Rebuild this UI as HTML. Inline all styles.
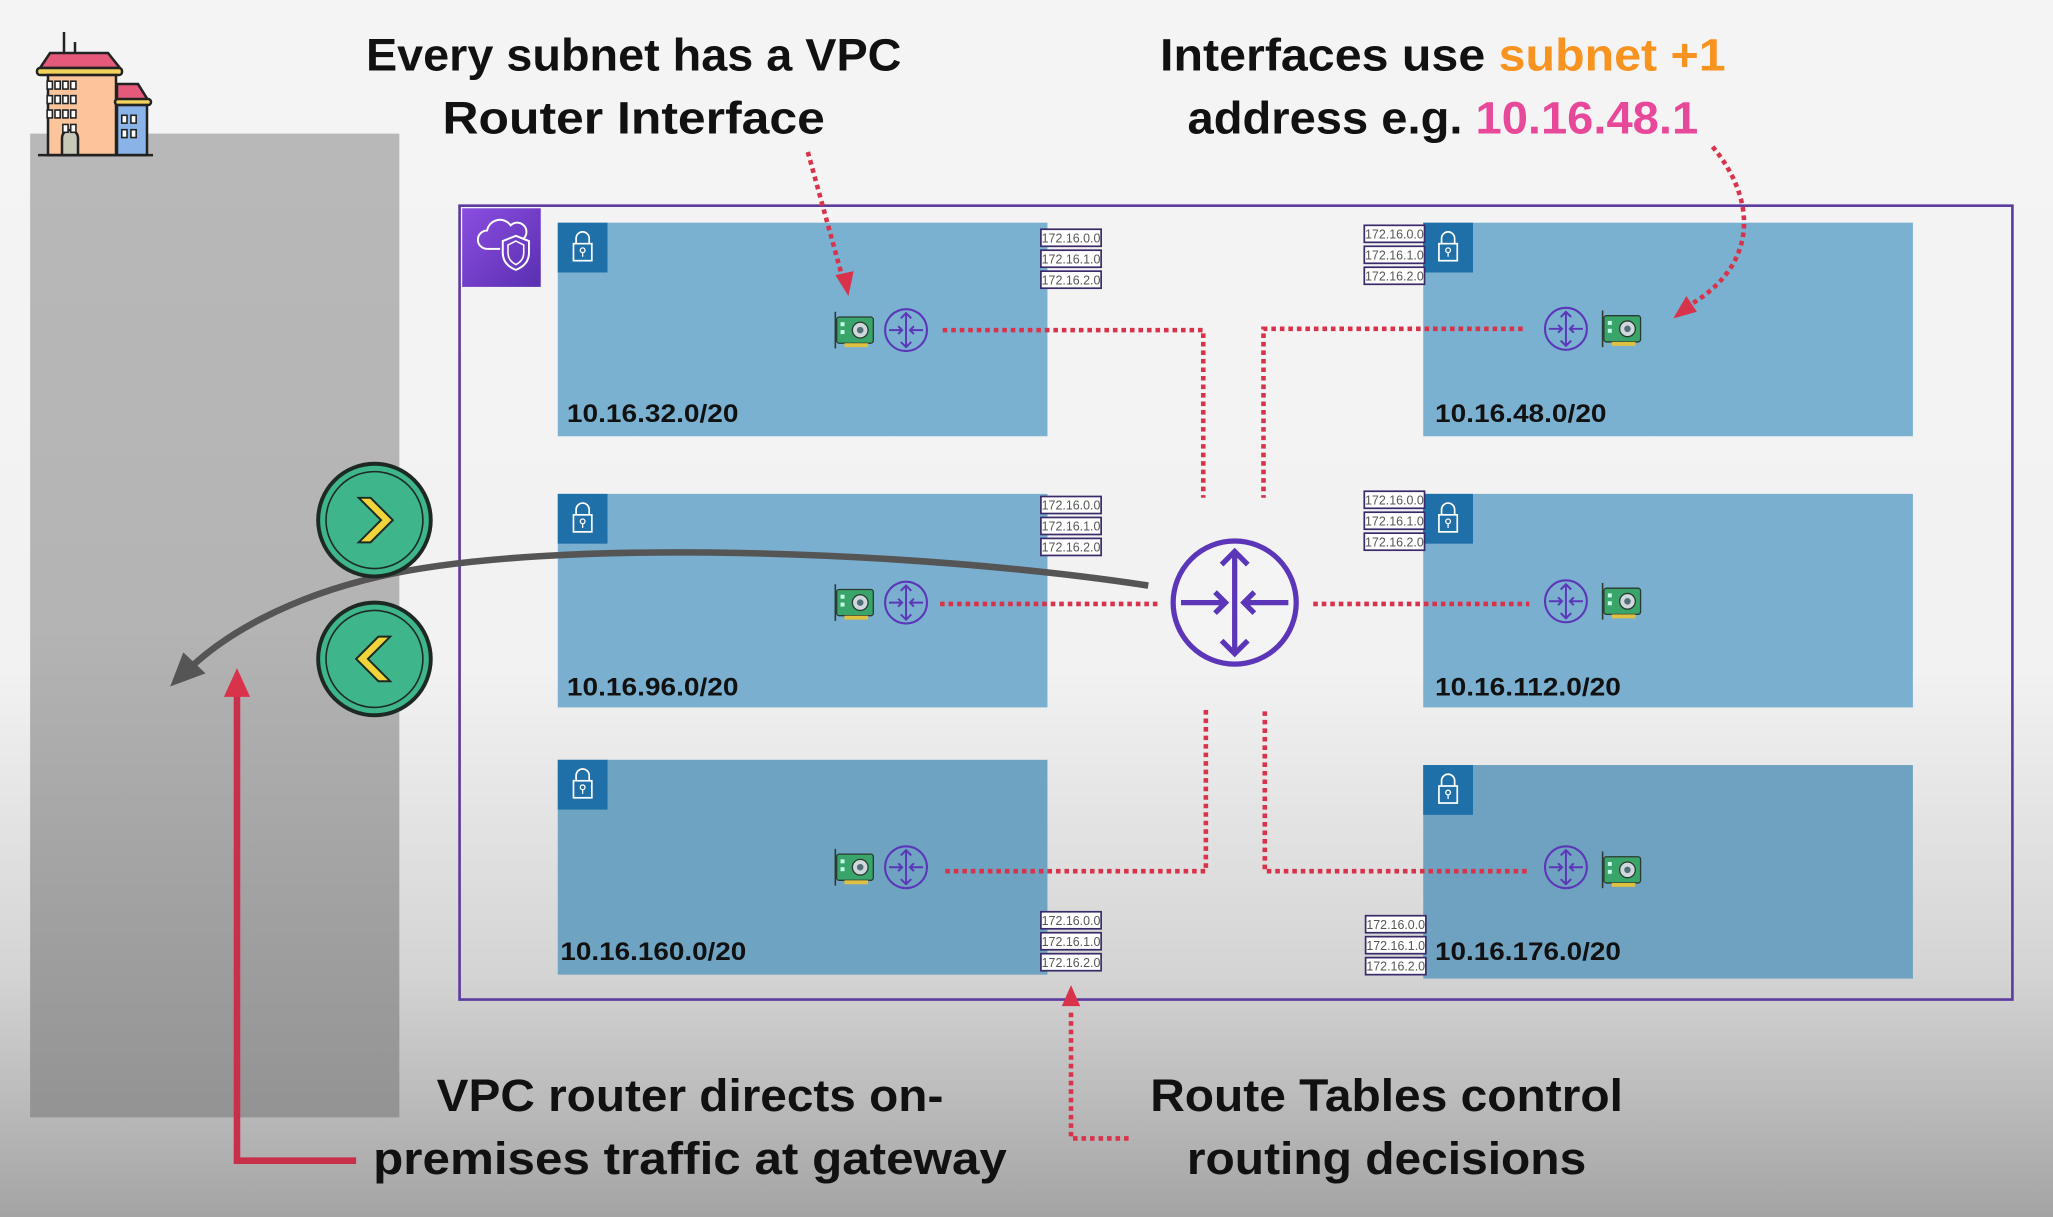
<!DOCTYPE html>
<html><head><meta charset="utf-8"><style>
html,body{margin:0;padding:0;width:2053px;height:1217px;overflow:hidden;background:#f4f4f4}
svg{display:block}
.t{font-family:"Liberation Sans",sans-serif;font-weight:bold;fill:#111}
.rt{font-family:"Liberation Sans",sans-serif;font-size:9.5px;fill:#555}
.sl{font-family:"Liberation Sans",sans-serif;font-weight:bold;font-size:19px;fill:#111}
</style></head><body>
<svg width="2053" height="1217" viewBox="0 0 1568 929" preserveAspectRatio="none" xmlns="http://www.w3.org/2000/svg">
<defs>
<linearGradient id="bg" x1="0" y1="0" x2="0" y2="1">
<stop offset="0" stop-color="#f4f4f4"/><stop offset="0.55" stop-color="#f2f2f2"/><stop offset="0.8" stop-color="#d4d4d4"/><stop offset="1" stop-color="#a4a4a4"/>
</linearGradient>
<linearGradient id="gp" x1="0" y1="0" x2="0" y2="1">
<stop offset="0" stop-color="#b8b8b8"/><stop offset="0.5" stop-color="#b4b4b4"/><stop offset="1" stop-color="#939393"/>
</linearGradient>
<linearGradient id="vp" x1="0" y1="0" x2="1" y2="1">
<stop offset="0" stop-color="#8a4ee0"/><stop offset="1" stop-color="#5a2fb0"/>
</linearGradient>
<g id="nic">
<rect x="2" y="4" width="28" height="20" rx="2" fill="#3aa56a" stroke="#2a3a30" stroke-width="1"/>
<circle cx="20" cy="14" r="6" fill="#cfd8dc" stroke="#2a3a30" stroke-width="1"/>
<circle cx="20" cy="14" r="2.5" fill="#546e7a"/>
<rect x="5" y="8" width="3" height="3" fill="#cfe"/><rect x="5" y="14" width="3" height="3" fill="#cfe"/>
<rect x="8" y="24" width="18" height="3" fill="#e0c040"/>
<line x1="1" y1="0" x2="1" y2="28" stroke="#2a3a30" stroke-width="1.2"/>
</g>
<g id="rtr">
<circle cx="0" cy="0" r="16" fill="none" stroke="#5b36b8" stroke-width="1.6"/>
<path d="M0,-13 V13 M-4,-9 L0,-13 L4,-9 M-4,9 L0,13 L4,9 M-13,0 H-3 M-6,-3 L-3,0 L-6,3 M13,0 H3 M6,-3 L3,0 L6,3" fill="none" stroke="#5b36b8" stroke-width="1.5"/>
</g>
<g id="lock">
<rect x="0" y="0" width="38" height="38" fill="#1f6fa8"/>
<rect x="12" y="16" width="14" height="13" fill="none" stroke="#fff" stroke-width="1.3"/>
<path d="M14,16 V12 A5,5 0 0 1 24,12 V16" fill="none" stroke="#fff" stroke-width="1.3"/>
<circle cx="19" cy="21" r="1.8" fill="none" stroke="#fff" stroke-width="1"/><line x1="19" y1="23" x2="19" y2="26" stroke="#fff" stroke-width="1"/>
</g>
<marker id="ah" viewBox="0 0 10 10" refX="5" refY="5" markerWidth="4" markerHeight="4" orient="auto"><path d="M0,0 L10,5 L0,10z" fill="#d8334a"/></marker>
</defs>
<rect width="1568" height="929" fill="url(#bg)"/>
<!-- gray panel -->
<rect x="23" y="102" width="282" height="751" fill="url(#gp)"/>
<!-- building -->
<g transform="scale(0.7638)" stroke="#222" stroke-width="2.5">
<line x1="64" y1="32" x2="64" y2="52"/><line x1="75" y1="42" x2="75" y2="52"/>
<path d="M50,53 L108,53 L120,68 L40,68 Z" fill="#e55a7a"/>
<rect x="37" y="68" width="85" height="7" rx="3" fill="#f2d35b"/>
<rect x="48" y="75" width="68" height="80" fill="#fbc49a"/>
<path d="M117,84 L138,84 L148,100 L117,100 Z" fill="#e55a7a"/>
<rect x="115" y="99" width="36" height="6" rx="3" fill="#f2d35b"/>
<rect x="117" y="105" width="30" height="50" fill="#8ab3e8"/>
<path d="M62,155 V138 A8,8 0 0 1 78,138 V155 Z" fill="#c8c8b8"/>
<line x1="38" y1="155" x2="153" y2="155"/>
</g>
<g fill="#fff" stroke="#222" stroke-width="1.2">
<rect x="36" y="62" width="4" height="6"/><rect x="42" y="62" width="4" height="6"/><rect x="48" y="62" width="4" height="6"/><rect x="54" y="62" width="4" height="6"/>
<rect x="36" y="73" width="4" height="6"/><rect x="42" y="73" width="4" height="6"/><rect x="48" y="73" width="4" height="6"/><rect x="54" y="73" width="4" height="6"/>
<rect x="36" y="84" width="4" height="6"/><rect x="42" y="84" width="4" height="6"/><rect x="48" y="84" width="4" height="6"/><rect x="54" y="84" width="4" height="6"/>
<rect x="48" y="95" width="4" height="6"/><rect x="54" y="95" width="4" height="6"/>
<rect x="93" y="88" width="4" height="6"/><rect x="100" y="88" width="4" height="6"/>
<rect x="93" y="99" width="4" height="6"/><rect x="100" y="99" width="4" height="6"/>
</g>
<!-- VPC -->
<rect x="351" y="157" width="1186" height="606" fill="none" stroke="#5d3a9e" stroke-width="2"/>
<rect x="353" y="159" width="60" height="60" fill="url(#vp)"/>
<path d="M372,190 A7,7 0 0 1 372,176 A10,10 0 0 1 390,172 A7,7 0 0 1 400,182" fill="none" stroke="#fff" stroke-width="1.5"/>
<path d="M372,190 H382" fill="none" stroke="#fff" stroke-width="1.5"/>
<path d="M394,180 L404,184 V193 Q404,202 394,206 Q384,202 384,193 V184 Z" fill="none" stroke="#fff" stroke-width="1.5"/>
<path d="M394,184 L400,187 V193 Q400,199 394,202 Q388,199 388,193 V187 Z" fill="none" stroke="#fff" stroke-width="1.2"/>
<!-- subnets -->
<rect x="426" y="170" width="374" height="163" fill="#7ab1d1"/>
<rect x="426" y="377" width="374" height="163" fill="#7aafcf"/>
<rect x="426" y="580" width="374" height="164" fill="#6fa3c2"/>
<rect x="1087" y="170" width="374" height="163" fill="#7ab1d1"/>
<rect x="1087" y="377" width="374" height="163" fill="#7aafcf"/>
<rect x="1087" y="584" width="374" height="163" fill="#6fa2c0"/>
<use href="#lock" x="426" y="170"/><use href="#lock" x="426" y="377"/><use href="#lock" x="426" y="580"/>
<use href="#lock" x="1087" y="170"/><use href="#lock" x="1087" y="377"/><use href="#lock" x="1087" y="584"/>
<text class="sl" x="433" y="322" textLength="131" lengthAdjust="spacingAndGlyphs">10.16.32.0/20</text>
<text class="sl" x="433" y="531" textLength="131" lengthAdjust="spacingAndGlyphs">10.16.96.0/20</text>
<text class="sl" x="428" y="733" textLength="142" lengthAdjust="spacingAndGlyphs">10.16.160.0/20</text>
<text class="sl" x="1096" y="322" textLength="131" lengthAdjust="spacingAndGlyphs">10.16.48.0/20</text>
<text class="sl" x="1096" y="531" textLength="142" lengthAdjust="spacingAndGlyphs">10.16.112.0/20</text>
<text class="sl" x="1096" y="733" textLength="142" lengthAdjust="spacingAndGlyphs">10.16.176.0/20</text>
<!-- route tables -->
<g fill="#fff" stroke="#3a2a6a" stroke-width="1.3">
<rect x="795" y="175" width="46" height="13"/><rect x="795" y="191" width="46" height="13"/><rect x="795" y="207" width="46" height="13"/>
<rect x="795" y="379" width="46" height="13"/><rect x="795" y="395" width="46" height="13"/><rect x="795" y="411" width="46" height="13"/>
<rect x="795" y="696" width="46" height="13"/><rect x="795" y="712" width="46" height="13"/><rect x="795" y="728" width="46" height="13"/>
<rect x="1042" y="172" width="46" height="13"/><rect x="1042" y="188" width="46" height="13"/><rect x="1042" y="204" width="46" height="13"/>
<rect x="1042" y="375" width="46" height="13"/><rect x="1042" y="391" width="46" height="13"/><rect x="1042" y="407" width="46" height="13"/>
<rect x="1043" y="699" width="46" height="13"/><rect x="1043" y="715" width="46" height="13"/><rect x="1043" y="731" width="46" height="13"/>
</g>
<g class="rt" text-anchor="middle">
<text x="818" y="185">172.16.0.0</text><text x="818" y="201">172.16.1.0</text><text x="818" y="217">172.16.2.0</text>
<text x="818" y="389">172.16.0.0</text><text x="818" y="405">172.16.1.0</text><text x="818" y="421">172.16.2.0</text>
<text x="818" y="706">172.16.0.0</text><text x="818" y="722">172.16.1.0</text><text x="818" y="738">172.16.2.0</text>
<text x="1065" y="182">172.16.0.0</text><text x="1065" y="198">172.16.1.0</text><text x="1065" y="214">172.16.2.0</text>
<text x="1065" y="385">172.16.0.0</text><text x="1065" y="401">172.16.1.0</text><text x="1065" y="417">172.16.2.0</text>
<text x="1066" y="709">172.16.0.0</text><text x="1066" y="725">172.16.1.0</text><text x="1066" y="741">172.16.2.0</text>
</g>
<!-- dotted connectors -->
<g fill="none" stroke="#d8334a" stroke-width="3.5" stroke-dasharray="3.5 3">
<path d="M720,252 H919 V380"/>
<path d="M1163,251 H965 V380"/>
<path d="M718,461 H885"/>
<path d="M1003,461 H1168"/>
<path d="M722,665 H921 V540"/>
<path d="M1166,665 H966 V540"/>
</g>
<!-- icons -->
<use href="#nic" x="637" y="238"/><use href="#rtr" x="692" y="252"/>
<use href="#nic" x="637" y="446"/><use href="#rtr" x="692" y="460"/>
<use href="#nic" x="637" y="648"/><use href="#rtr" x="692" y="662"/>
<use href="#rtr" x="1196" y="251"/><use href="#nic" x="1223" y="237"/>
<use href="#rtr" x="1196" y="459"/><use href="#nic" x="1223" y="445"/>
<use href="#rtr" x="1196" y="662"/><use href="#nic" x="1223" y="650"/>
<!-- main router -->
<circle cx="943" cy="460" r="47" fill="#f4f4f4" stroke="#5b36b8" stroke-width="4"/>
<path d="M943,421 V499 M933,431 L943,421 L953,431 M933,489 L943,499 L953,489 M902,460 H936 M928,452 L936,460 L928,468 M984,460 H950 M958,452 L950,460 L958,468" fill="none" stroke="#5b36b8" stroke-width="4"/>
<!-- gray arrow -->
<path d="M877,447 C700,420 420,410 290,440 C220,456 170,485 142,513" fill="none" stroke="#555" stroke-width="5"/>
<path d="M130,524 L140,498 L157,514 Z" fill="#555"/>
<!-- green gateways -->
<g stroke="#1d2a24">
<circle cx="286" cy="397" r="43" fill="#3fb58c" stroke-width="3"/>
<circle cx="286" cy="397" r="37" fill="none" stroke-width="1.2"/>
<path d="M274,380 L283,380 L300,397 L283,414 L274,414 L291,397 Z" fill="#f0d43a" stroke-width="1.5"/>
<circle cx="286" cy="503" r="43" fill="#3fb58c" stroke-width="3"/>
<circle cx="286" cy="503" r="37" fill="none" stroke-width="1.2"/>
<path d="M298,486 L289,486 L272,503 L289,520 L298,520 L281,503 Z" fill="#f0d43a" stroke-width="1.5"/>
</g>
<!-- red solid arrow -->
<path d="M272,886 H181 V530" fill="none" stroke="#c8304a" stroke-width="5"/>
<path d="M181,510 L171,532 L191,532 Z" fill="#d8334a"/>
<!-- annotation arrows -->
<g fill="none" stroke="#d8334a" stroke-width="3.5" stroke-dasharray="3.5 3">
<path d="M617,116 L644,214"/>
<path d="M1308,112 C1340,150 1345,200 1292,232"/>
<path d="M862,869 H818 V770"/>
</g>
<path d="M648,226 L638,210 L652,207 Z" fill="#d8334a"/>
<path d="M1278,243 L1288,226 L1296,238 Z" fill="#d8334a"/>
<path d="M818,752 L811,768 L825,768 Z" fill="#d8334a"/>
<!-- titles -->
<g class="t" text-anchor="middle" font-size="35">
<text x="484" y="54" textLength="409" lengthAdjust="spacingAndGlyphs">Every subnet has a VPC</text>
<text x="484" y="102" textLength="292" lengthAdjust="spacingAndGlyphs">Router Interface</text>
<text x="1102" y="54" textLength="432" lengthAdjust="spacingAndGlyphs">Interfaces use <tspan fill="#f7931e">subnet +1</tspan></text>
<text x="1102" y="102" textLength="390" lengthAdjust="spacingAndGlyphs">address e.g. <tspan fill="#e8489a">10.16.48.1</tspan></text>
<text x="527" y="848" textLength="387" lengthAdjust="spacingAndGlyphs">VPC router directs on-</text>
<text x="527" y="896" textLength="484" lengthAdjust="spacingAndGlyphs">premises traffic at gateway</text>
<text x="1059" y="848" textLength="361" lengthAdjust="spacingAndGlyphs">Route Tables control</text>
<text x="1059" y="896" textLength="305" lengthAdjust="spacingAndGlyphs">routing decisions</text>
</g>
</svg>
</body></html>
